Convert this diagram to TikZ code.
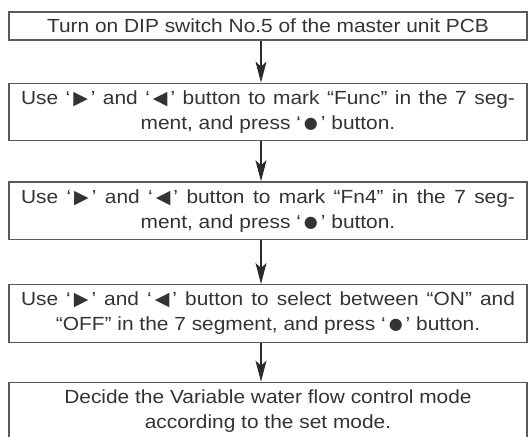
\documentclass[tikz,border=0pt]{standalone}
\usepackage{fontspec}
\setmainfont{Liberation Sans}[FakeStretch=1.1]
\newfontfamily\symfont{DejaVu Sans}
\usepackage{tikz}
\usetikzlibrary{arrows.meta,positioning}

\definecolor{inkgray}{HTML}{333333}
\definecolor{framegray}{HTML}{5A5A5A}
\definecolor{arrowgray}{HTML}{2A2A2A}

\newcommand{\rightbtn}{\hspace{3pt}{\symfont\fontsize{19}{25}\selectfont ▶}\hspace{3pt}}
\newcommand{\leftbtn}{\hspace{3pt}{\symfont\fontsize{19}{25}\selectfont ◀}\hspace{3pt}}
\newcommand{\setbtn}{\hspace{3pt}\raisebox{1pt}{\symfont\fontsize{16}{25}\selectfont ●}\hspace{3pt}}
% first line of a box, set full width
\newcommand{\fullline}[1]{\makebox[494pt][s]{#1}}

\begin{document}
\begin{tikzpicture}[
                        semithick
                    ]
                    \tikzstyle{block}=[draw=framegray,line width=1.2pt,text=inkgray,
                        minimum width=518pt,minimum height=57.5pt,inner sep=0pt,
                        align=center,font=\fontsize{19}{25}\selectfont]
                    \tikzstyle{flow}=[-{Stealth[length=21pt,width=11pt,inset=5pt]},
                        draw=arrowgray,fill=arrowgray,line width=1.1pt]

                    \useasboundingbox (0,0) rectangle (531pt,-437pt);

                    \node[block,minimum height=28pt] (S1) at (268pt,-26pt)
                        {Turn on DIP switch No.5 of the master unit PCB};
                    \node[block] (S2) [below=42pt of S1]
                        {\fullline{Use ‘\rightbtn’ and ‘\leftbtn’ button to mark “Func” in the 7 seg-}\\
                         ment, and press ‘\setbtn’ button.};
                    \node[block] (S3) [below=40pt of S2]
                        {\fullline{Use ‘\rightbtn’ and ‘\leftbtn’ button to mark “Fn4” in the 7 seg-}\\
                         ment, and press ‘\setbtn’ button.};
                    \node[block] (S4) [below=44pt of S3]
                        {\fullline{Use ‘\rightbtn’ and ‘\leftbtn’ button to select between “ON” and}\\
                         “OFF” in the 7 segment, and press ‘\setbtn’ button.};
                    \node[block] (S5) [below=39pt of S4]
                        {Decide the Variable water flow control mode\\
                         according to the set mode.};

                    \draw[flow] ([xshift=-7pt]S1.south) -- ([xshift=-7pt]S2.north);
                    \draw[flow] ([xshift=-7pt]S2.south) -- ([xshift=-7pt]S3.north);
                    \draw[flow] ([xshift=-7pt]S3.south) -- ([xshift=-7pt]S4.north);
                    \draw[flow] ([xshift=-7pt]S4.south) -- ([xshift=-7pt]S5.north);
                \end{tikzpicture}
\end{document}
